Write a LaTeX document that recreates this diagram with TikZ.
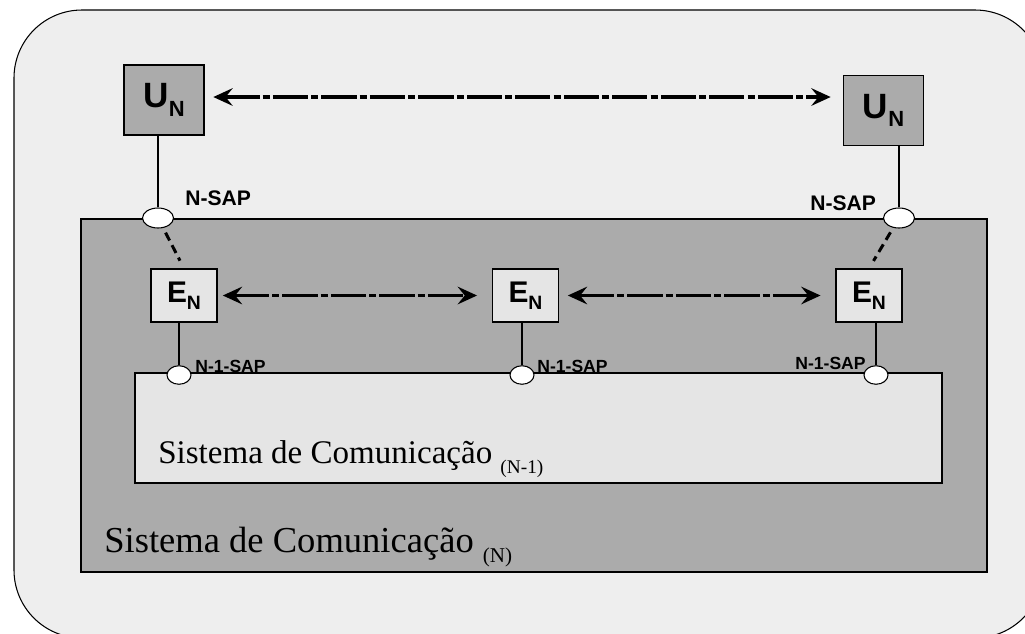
\documentclass[tikz,border=0pt]{standalone}
\usepackage{fontspec}
\setmainfont{Liberation Serif}
\setsansfont{Liberation Sans}
\usetikzlibrary{arrows.meta,shapes.geometric}

\definecolor{fundo}{HTML}{EEEEEE}
\definecolor{cinza}{HTML}{ABABAB}
\definecolor{claro}{HTML}{E5E5E5}

\newcommand{\subn}[2][11]{\raisebox{-0.45ex}{\fontsize{#1}{#1}\selectfont #2}}

\tikzset{
  usr/.style={draw, line width=0.6pt, fill=cinza, minimum width=1.6cm, minimum height=1.4cm,
    inner sep=0pt, font=\sffamily\bfseries\fontsize{20}{20}\selectfont},
  ent/.style={draw, line width=0.6pt, fill=claro, minimum width=1.32cm, minimum height=1.06cm,
    inner sep=0pt, font=\sffamily\bfseries\fontsize{17}{17}\selectfont},
  sap/.style={draw, ellipse, line width=0.6pt, fill=white, minimum width=0.62cm,
    minimum height=0.4cm, inner sep=0pt},
  ssap/.style={sap, minimum width=0.48cm, minimum height=0.37cm},
  lbl/.style={inner sep=0pt, anchor=west, font=\sffamily\bfseries\fontsize{12}{12}\selectfont},
  slbl/.style={lbl, font=\sffamily\bfseries\fontsize{10}{10}\selectfont},
  msg/.style={line width=2pt, dash pattern=on 20pt off 1.8pt on 4pt off 1.8pt,
    {Stealth[length=11pt,width=10pt,inset=4pt]}-{Stealth[length=11pt,width=10pt,inset=4pt]}},
  lig/.style={line width=1.7pt, dash pattern=on 5pt off 3pt}
}

\begin{document}
\begin{tikzpicture}[x=0.02cm,y=-0.02cm]
\useasboundingbox (0,0) rectangle (1025,633);
\clip (0,0) rectangle (1025,633);

\draw[line width=0.6pt, fill=fundo, rounded corners=1.36cm] (14,10) rectangle (1043,638);
\draw[line width=0.6pt, fill=cinza] (81,219) rectangle (987,572);
\draw[line width=0.6pt, fill=claro] (135,373) rectangle (942,483);

\node[usr] at (164,100)   (un1) {U\subn[12.5]{N}};
\node[usr] at (883.5,110.5) (un2) {U\subn[12.5]{N}};

\node[ent] at (184,295.5)   (en1) {E\subn{N}};
\node[ent] at (525.5,295.5) (en2) {E\subn{N}};
\node[ent] at (869,295.5)   (en3) {E\subn{N}};

\node[sap] at (158,218) (sap1) {};
\node[sap] at (899,218) (sap2) {};

\node[ssap] at (179,375) (ssap1) {};
\node[ssap] at (522,375) (ssap2) {};
\node[ssap] at (876,375) (ssap3) {};

\node[lbl] at (185,198) (nsap1) {N-SAP};
\node[lbl] at (810,203) (nsap2) {N-SAP};

\node[slbl] at (195,366) (n1sap1) {N-1-SAP};
\node[slbl] at (537,366) (n1sap2) {N-1-SAP};
\node[slbl] at (795,363) (n1sap3) {N-1-SAP};

\node[inner sep=0pt, anchor=base west, font=\fontsize{18.8}{18.8}\selectfont] at (158,463) (sis1)
  {Sistema de Comunicação \raisebox{-6pt}{\fontsize{11}{11}\selectfont (N-1)}};
\node[inner sep=0pt, anchor=base west, font=\fontsize{20.8}{20.8}\selectfont] at (104,552) (sis0)
  {Sistema de Comunicação \raisebox{-6pt}{\fontsize{12}{12}\selectfont (N)}};

\draw[line width=0.6pt] (sap1.north) -- (sap1.north |- un1.south);
\draw[line width=0.6pt] (sap2.north) -- (sap2.north |- un2.south);
\draw[line width=0.6pt] (ssap1.north) -- (ssap1.north |- en1.south);
\draw[line width=0.6pt] (ssap2.north) -- (ssap2.north |- en2.south);
\draw[line width=0.6pt] (ssap3.north) -- (ssap3.north |- en3.south);

\draw[lig, shorten <=3pt, shorten >=5pt] (sap1) -- (en1.north);
\draw[lig, shorten <=3pt, shorten >=5pt] (sap2) -- (en3.north);

\draw[msg, shorten <=5pt, shorten >=7pt] ([yshift=1.7pt]un1.east) -- ([yshift=1.7pt]un1.east -| un2.west);
\draw[msg, shorten <=3pt, shorten >=8.5pt] (en1.east) -- (en2.west);
\draw[msg, shorten <=5pt, shorten >=8.5pt] (en2.east) -- (en3.west);

\end{tikzpicture}
\end{document}
